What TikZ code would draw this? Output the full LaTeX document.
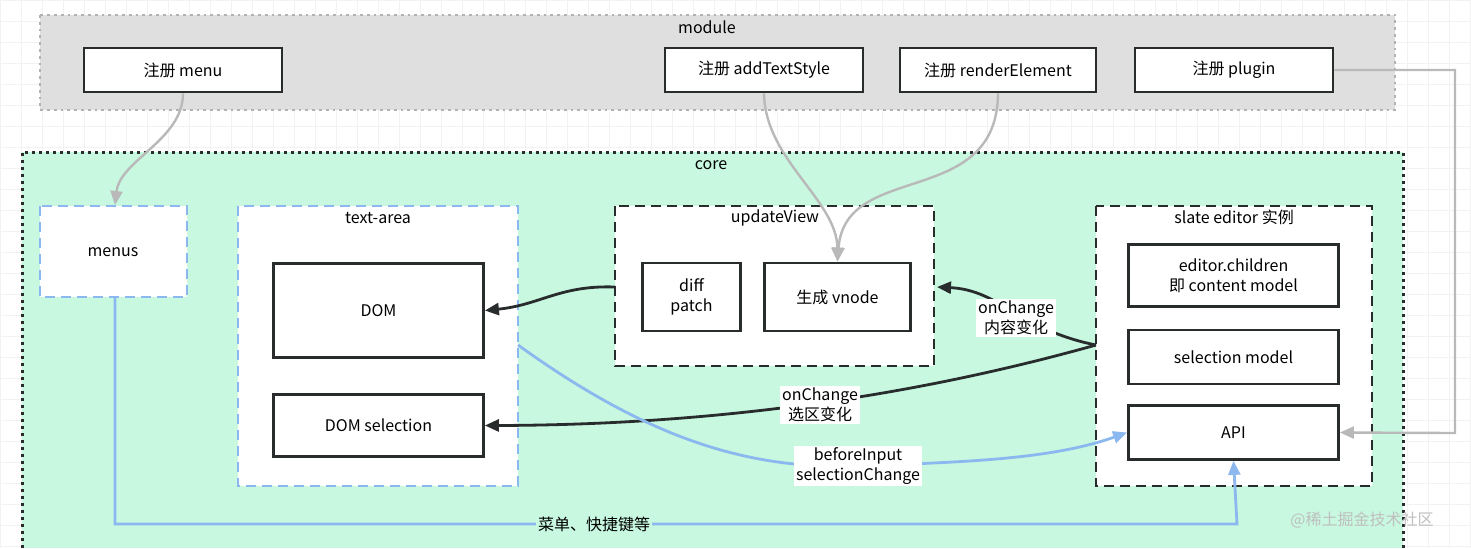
\documentclass[tikz,border=0pt]{standalone}
\usepackage{fontspec}
\setmainfont{Noto Sans CJK SC}
\usetikzlibrary{arrows.meta}
\usetikzlibrary{positioning}
\definecolor{mint}{RGB}{200, 248, 224}
\definecolor{lblue}{RGB}{140, 184, 240}
\definecolor{dark}{RGB}{40, 44, 44}
\tikzset{
  box/.style={draw=dark, line width=1.4pt, fill=white, font=\fontsize{8}{10}\selectfont, align=center},
  group/.style={fill=white, line width=1.4pt, dash pattern=on 5pt off 3pt},
  title/.style={font=\fontsize{8}{10}\selectfont, inner sep=1pt},
  garrow/.style={-{Triangle[length=7pt,width=6pt]}, draw=gray!55, line width=1.2pt},
  darrow/.style={-{Triangle[length=7pt,width=6pt]}, draw=dark, line width=1.4pt},
  barrow/.style={-{Triangle[length=7pt,width=6pt]}, draw=lblue, line width=1.4pt},
  tag/.style={font=\fontsize{8}{10}\selectfont, align=center, inner sep=1pt}
}
\begin{document}
\begin{tikzpicture}[x=0.5pt, y=-0.5pt]
\useasboundingbox (0,0) rectangle (1471,548);
% grid
\draw[gray!10, line width=0.4pt, step=10.5pt] (0,0) grid (1471,548);
% module
\draw[fill=gray!25, draw=gray!60, dotted, line width=1.4pt] (40,15) rectangle (1395,110);
\node[title] (moduleT) at (707,27) {module};
\node[box, minimum width=99pt, minimum height=22pt] (regmenu) at (183,70) {注册 menu};
\node[box, minimum width=99pt, minimum height=22pt] (regstyle) at (764,70) {注册 addTextStyle};
\node[box, minimum width=98pt, minimum height=22pt] (regrender) at (998,70) {注册 renderElement};
\node[box, minimum width=99pt, minimum height=22pt] (regplugin) at (1234,70) {注册 plugin};
% core
\fill[mint] (22,152) rectangle (1403,548);
\draw[dark, dotted, line width=1.5pt] (22,548) -- (22,152) -- (1403,152) -- (1403,548);
\node[title] (coreT) at (711,165) {core};
\draw[group, draw=lblue] (40,206) rectangle (187,297);
\node[tag] (menus) at (113,252) {menus};
\coordinate (menusB) at (115,298);
\coordinate (menusT) at (115,205);
\draw[group, draw=lblue] (238,206) rectangle (518,486);
\node[title] (textareaT) at (378,218) {text-area};
\node[box, minimum width=105pt, minimum height=47pt] (dom) at (378.5,310.5) {DOM};
\node[box, minimum width=105pt, minimum height=31pt] (domsel) at (378.5,425.5) {DOM selection};
\coordinate (domBR) at (518,345);
\draw[group, draw=dark] (615,206) rectangle (934,366);
\node[title] (updateT) at (775,218) {updateView};
\coordinate (updateL) at (615,287);
\node[box, minimum width=49pt, minimum height=34pt] (diff) at (691.5,297) {diff\\patch};
\node[box, minimum width=73pt, minimum height=34pt] (vnode) at (837.5,297) {生成 vnode};
\draw[group, draw=dark] (1096,206) rectangle (1372,486);
\node[title] (slateT) at (1234,217) {slate editor 实例};
\coordinate (slateL) at (1096,345);
\coordinate (vnodeR) at (937,287);
\node[box, minimum width=105pt, minimum height=31pt] (children) at (1233.5,275.5) {editor.children\\即 content model};
\node[box, minimum width=105pt, minimum height=27pt] (selmodel) at (1233.5,357) {selection model};
\node[box, minimum width=105pt, minimum height=27pt] (api) at (1233.5,432.5) {API};
% connectors
\draw[garrow] (regmenu.south) .. controls (183,140) and (120,160) .. (menusT);
\draw[garrow] (regstyle.south) .. controls (765,160) and (837,200) .. (vnode.north);
\draw[garrow] (regrender.south) .. controls (997,210) and (845,160) .. (vnode.north);
\draw[garrow] (regplugin.east) -- (1455,70) -- (1455,433) -- (api.east);
\draw[darrow] (updateL) .. controls (560,285) and (540,305) .. (dom.east);
\draw[darrow] (slateL) .. controls (1020,330) and (1000,290) .. (vnodeR);
\node[tag, fill=white] (lblcontent) at (1016,318) {onChange\\内容变化};
\draw[darrow] (slateL) .. controls (900,400) and (700,425) .. (domsel.east);
\node[tag, fill=white] (lblselect) at (820,405) {onChange\\选区变化};
\draw[barrow] (domBR) .. controls (650,440) and (750,470) .. (860,466) .. controls (960,462) and (1050,460) .. (api.west);
\node[tag, fill=white] (lblinput) at (858,466) {beforeInput\\selectionChange};
\draw[barrow] (menusB) -- (115,524) -- (1237,524) -- (api.south);
\node[tag, fill=mint] (lblkeys) at (594,524) {菜单、快捷键等};
\node[tag, text=gray!50] (mark) at (1362,520) {@稀土掘金技术社区};
\end{tikzpicture}
\end{document}
